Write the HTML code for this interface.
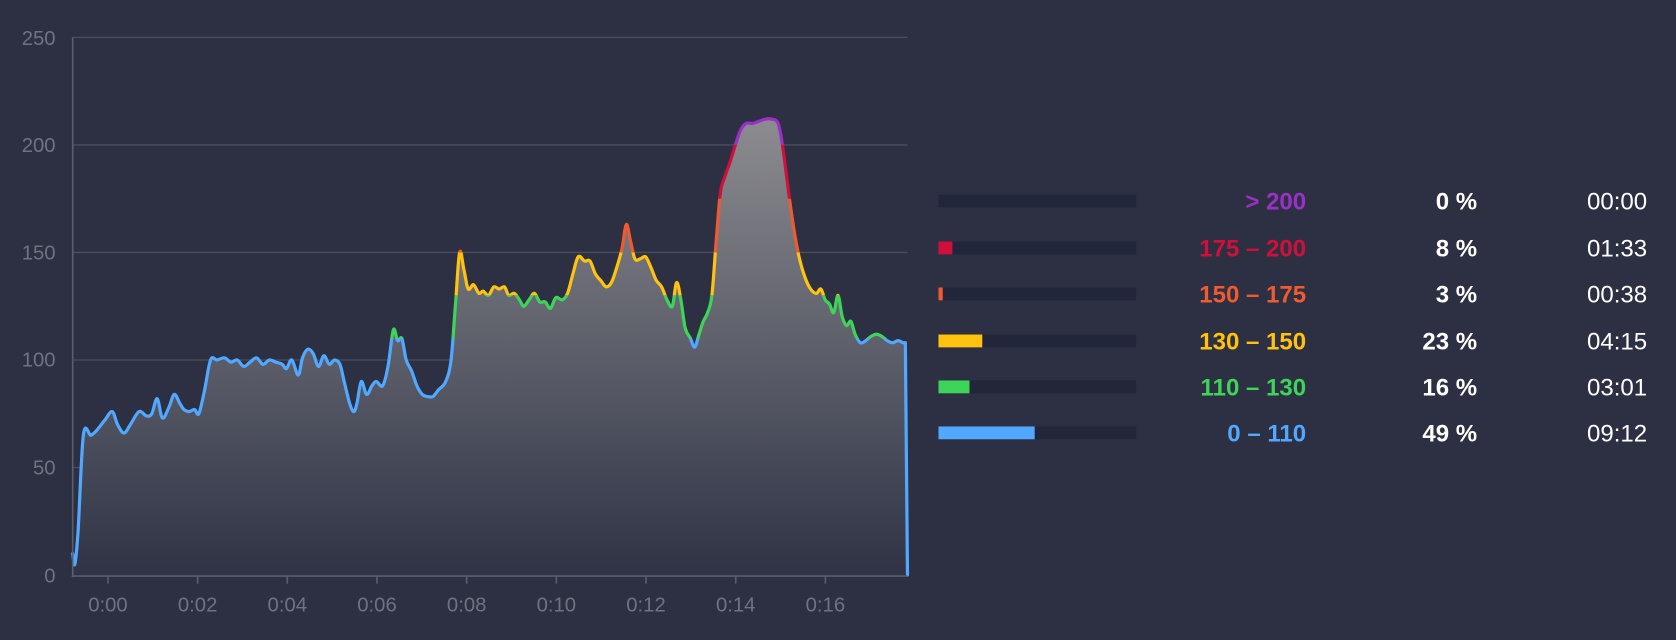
<!DOCTYPE html>
<html><head><meta charset="utf-8"><style>
html,body{margin:0;padding:0;background:#2c3042;}
svg{display:block}
text{font-family:"Liberation Sans",sans-serif}
</style></head><body>
<svg id="s" width="1676" height="640" viewBox="0 0 1568 598.8" preserveAspectRatio="none" xmlns="http://www.w3.org/2000/svg">
<defs>
<linearGradient id="g" gradientUnits="userSpaceOnUse" x1="0" y1="110" x2="0" y2="538">
<stop offset="0" stop-color="#8c8c90"/><stop offset="1" stop-color="#2f3345"/>
</linearGradient>
<clipPath id="c0"><rect x="0" y="0" width="1568" height="135.6"/></clipPath>
<clipPath id="c1"><rect x="0" y="135.6" width="1568" height="50.3"/></clipPath>
<clipPath id="c2"><rect x="0" y="185.9" width="1568" height="50.3"/></clipPath>
<clipPath id="c3"><rect x="0" y="236.2" width="1568" height="40.2"/></clipPath>
<clipPath id="c4"><rect x="0" y="276.4" width="1568" height="40.3"/></clipPath>
<clipPath id="c5"><rect x="0" y="316.7" width="1568" height="300"/></clipPath>
</defs>
<rect width="1568" height="599" fill="#2c3042"/>
<g stroke="#4a4e5c" stroke-width="1.2">
<line x1="68" y1="35" x2="849" y2="35"/><line x1="68" y1="135.6" x2="849" y2="135.6"/>
<line x1="68" y1="236.2" x2="849" y2="236.2"/><line x1="68" y1="336.8" x2="849" y2="336.8"/>
<line x1="68" y1="437.4" x2="849" y2="437.4"/>
</g>
<g fill="#6e7382" font-size="19" text-anchor="end">
<text x="52" y="42">250</text><text x="52" y="142">200</text><text x="52" y="243">150</text>
<text x="52" y="343">100</text><text x="52" y="444">50</text><text x="52" y="545">0</text>
</g>
<path id="fill" fill="url(#g)"/>
<g id="lines" fill="none" stroke-width="3" stroke-linejoin="round" stroke-linecap="round"></g>
<line x1="68" y1="35" x2="68" y2="540" stroke="#5a5e6c" stroke-width="1.5"/>
<line x1="67" y1="539" x2="849" y2="539" stroke="#5a5e6c" stroke-width="1.5"/>
<g id="ticks" stroke="#5a5e6c" stroke-width="1.5"></g>
<g id="xl" fill="#6e7382" font-size="19" text-anchor="middle"></g>
<g font-size="22.5" font-weight="bold" text-anchor="end">
<rect x="878" y="182" width="185" height="12" fill="#22263a"/>
<rect x="878" y="226" width="185" height="12" fill="#22263a"/><rect x="878" y="226" width="13" height="12" fill="#d0103a"/>
<rect x="878" y="269" width="185" height="12" fill="#22263a"/><rect x="878" y="269" width="4" height="12" fill="#f05a30"/>
<rect x="878" y="313" width="185" height="12" fill="#22263a"/><rect x="878" y="313" width="41" height="12" fill="#ffc20e"/>
<rect x="878" y="356" width="185" height="12" fill="#22263a"/><rect x="878" y="356" width="29" height="12" fill="#3ed45a"/>
<rect x="878" y="399" width="185" height="12" fill="#22263a"/><rect x="878" y="399" width="90" height="12" fill="#52a8ff"/>
<text x="1222" y="196" fill="#9b30c8">&gt; 200</text>
<text x="1222" y="240" fill="#d0103a">175 – 200</text>
<text x="1222" y="283" fill="#f05a30">150 – 175</text>
<text x="1222" y="327" fill="#ffc20e">130 – 150</text>
<text x="1222" y="370" fill="#3ed45a">110 – 130</text>
<text x="1222" y="413" fill="#52a8ff">0 – 110</text>
<g fill="#ffffff">
<text x="1382" y="196">0 %</text><text x="1382" y="240">8 %</text><text x="1382" y="283">3 %</text>
<text x="1382" y="327">23 %</text><text x="1382" y="370">16 %</text><text x="1382" y="413">49 %</text>
</g>
<g fill="#ffffff" font-weight="normal">
<text x="1541" y="196">00:00</text><text x="1541" y="240">01:33</text><text x="1541" y="283">00:38</text>
<text x="1541" y="327">04:15</text><text x="1541" y="370">03:01</text><text x="1541" y="413">09:12</text>
</g>
</g>
</svg>
<script>
var d=[68,10,70,5,73,20,78,65,85,65,90,67,98,72,105,76,110,70,116,66,122,70,130,76,137,74,142,75,147,82,152,73,158,78,163,84,168,80,172,77,177,76,182,77,186,75,191,85,197,100,203,100,210,101,216,99,222,100,228,97,234,99,240,101,246,98,252,100,258,99,264,98,268,96,273,100,279,93,283,101,288,105,293,103,298,97,303,102,308,98,313,100,318,98,322,90,327,80,331,76,334,80,338,90,343,84,348,88,352,90,358,88,363,97,368,114,372,109,376,110,380,100,385,95,390,88,395,84,400,83,405,83,410,86,417,90,422,100,426,125,430,150,434,142,438,133,443,135,448,131,452,132,457,130,462,134,467,133,472,134,476,130,481,131,486,128,490,125,495,128,500,131,505,127,510,127,515,124,520,129,526,128,531,131,536,140,541,148,547,146,552,146,557,140,562,137,567,134,572,136,577,143,582,152,586,163,590,155,594,147,599,147,604,148,609,143,614,137,619,134,624,128,629,125,633,136,637,128,641,115,646,110,650,106,654,112,658,118,662,122,666,130,670,155,674,178,678,185,683,192,688,200,693,207,698,210,704,210,710,211,716,212,722,212,728,210,732,200,736,185,740,170,744,157,748,147,752,140,756,135,760,132,764,131,768,133,772,128,776,126,780,122,784,130,788,120,792,116,796,118,800,112,805,108,810,109,815,111,820,112,825,111,830,109,835,108,840,109,845,108,847,108,849,0];
var P=[];for(var i=0;i<d.length;i+=2)P.push([d[i],538-d[i+1]*2.012]);
var p="M"+P[0][0]+","+P[0][1].toFixed(1);
for(var i=0;i<P.length-1;i++){var a=P[Math.max(i-1,0)],b=P[i],c=P[i+1],e=P[Math.min(i+2,P.length-1)];
if(i>=P.length-3){p+="L"+c[0]+","+c[1].toFixed(1);continue;}
var t=0.17;p+="C"+(b[0]+(c[0]-a[0])*t).toFixed(1)+","+(b[1]+(c[1]-a[1])*t).toFixed(1)+" "+(c[0]-(e[0]-b[0])*t).toFixed(1)+","+(c[1]-(e[1]-b[1])*t).toFixed(1)+" "+c[0]+","+c[1].toFixed(1);}
document.getElementById("fill").setAttribute("d",p+"L849,538L68,538Z");
var cols=["#9b30c8","#d0103a","#f05a30","#ffc20e","#3ed45a","#52a8ff"],ns="http://www.w3.org/2000/svg",g=document.getElementById("lines");
cols.forEach(function(c,k){var e=document.createElementNS(ns,"path");e.setAttribute("d",p);e.setAttribute("stroke",c);e.setAttribute("clip-path","url(#c"+k+")");g.appendChild(e);});
var lab=["0:00","0:02","0:04","0:06","0:08","0:10","0:12","0:14","0:16"],t=document.getElementById("ticks"),xl=document.getElementById("xl");
lab.forEach(function(s,k){var x=101+k*83.9;var l=document.createElementNS(ns,"line");l.setAttribute("x1",x);l.setAttribute("x2",x);l.setAttribute("y1",539);l.setAttribute("y2",546);t.appendChild(l);
var tx=document.createElementNS(ns,"text");tx.setAttribute("x",x);tx.setAttribute("y",572);tx.textContent=s;xl.appendChild(tx);});
</script>
</body></html>
